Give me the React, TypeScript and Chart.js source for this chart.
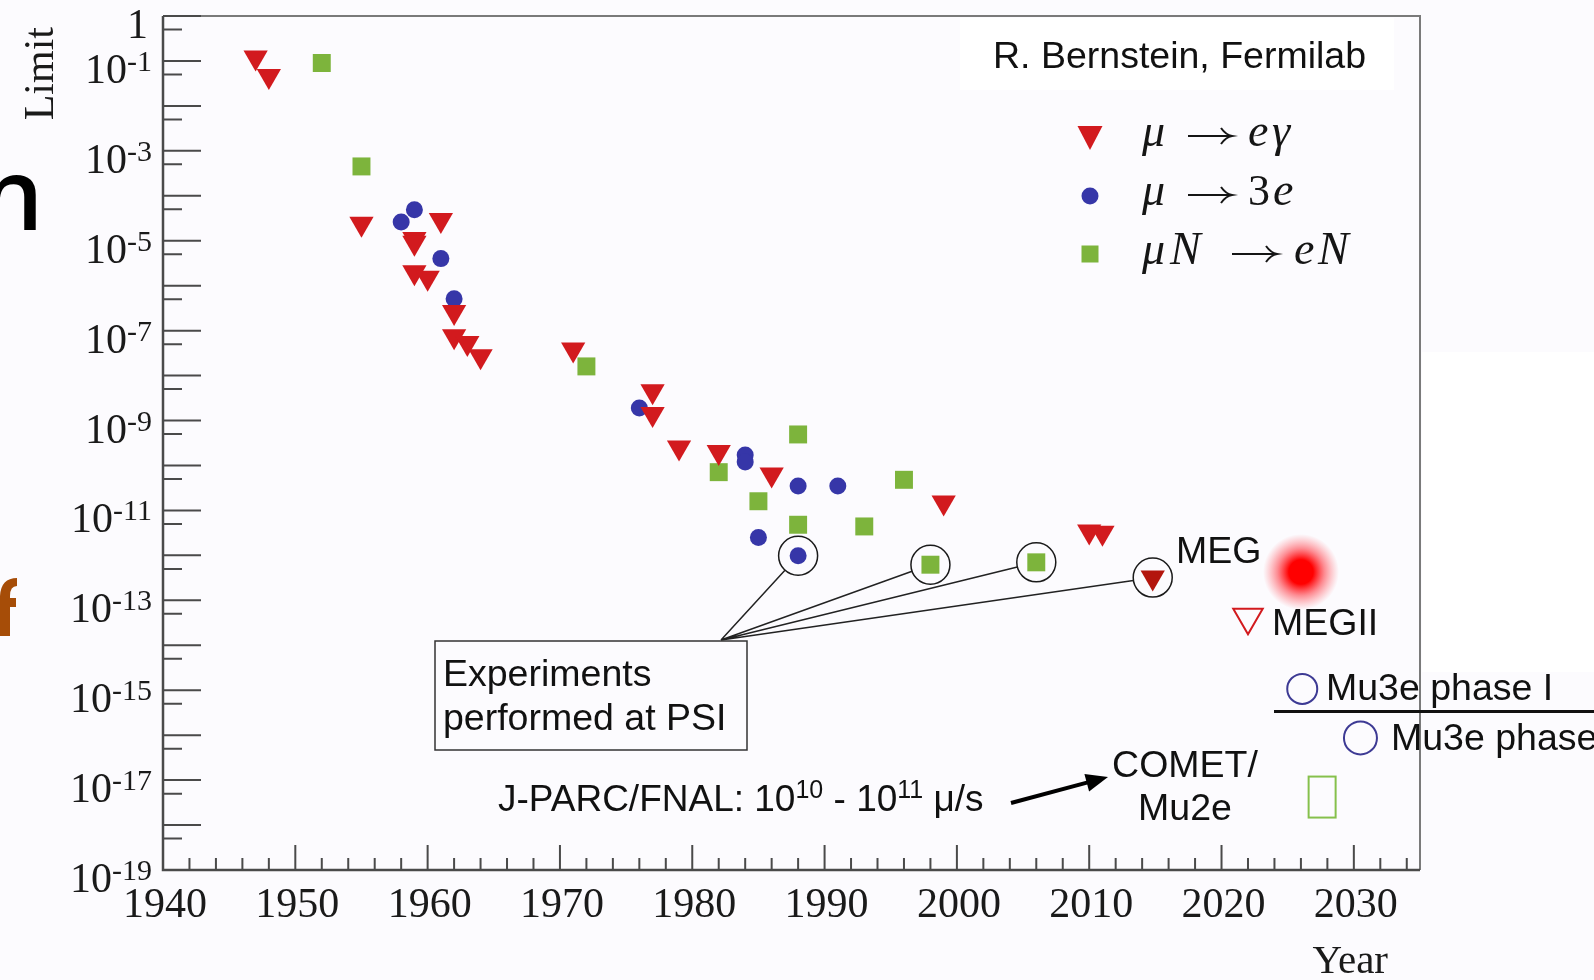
import React, { useEffect, useRef } from 'react';
import { Chart, registerables } from 'chart.js';

Chart.register(...registerables);

// ---------------- data ----------------
const muEgYear = [1947, 1948, 1955, 1959, 1959, 1959, 1960, 1961, 1962, 1962, 1963, 1964, 1971, 1977, 1977, 1979, 1982, 1986, 1999, 2010, 2011];
const muEgLimit = [1.2e-1, 4.6e-2, 2.4e-5, 1.1e-5, 9e-6, 2e-6, 1.5e-6, 2.9e-5, 2.6e-7, 7.5e-8, 5.3e-8, 2.7e-8, 3.8e-8, 4.5e-9, 1.4e-9, 2.5e-10, 2.0e-10, 6.3e-11, 1.5e-11, 3.4e-12, 3.2e-12];

const megYear = [2014.8];
const megLimit = [3.2e-13];

const mu3eYear = [1958, 1959, 1961, 1962, 1976, 1984, 1984, 1985, 1988, 1991, 1988];
const mu3eLimit = [2.6e-5, 4.9e-5, 4e-6, 5.1e-7, 1.9e-9, 1.7e-10, 1.2e-10, 2.5e-12, 3.5e-11, 3.5e-11, 9.8e-13];

const muNYear = [1952, 1955, 1972, 1982, 1985, 1988, 1988, 1993, 1996, 1998, 2006];
const muNLimit = [9e-2, 4.5e-4, 1.6e-8, 7.1e-11, 1.6e-11, 4.9e-10, 4.8e-12, 4.4e-12, 4.8e-11, 6.2e-13, 7e-13];

// experiments performed at PSI (circled)
const psiYear = [1988, 1998, 2006, 2014.8];
const psiLimit = [9.8e-13, 6.2e-13, 7e-13, 3.2e-13];

// future sensitivities
const megIIYear = [2022];
const megIILimit = [4.2e-14];
const mu3eFutureYear = [2026.1, 2030.5];
const mu3eFutureLimit = [1.07e-15, 8.7e-17];
const cometYear = [2027.6];
const cometLimit = [4.2e-18];

// axes
const xTickYears = [1940, 1950, 1960, 1970, 1980, 1990, 2000, 2010, 2020, 2030];
const yLabelExps = [0, -1, -3, -5, -7, -9, -11, -13, -15, -17, -19];

// ---------------- styles ----------------
const W = 1594;
const H = 980;
const SERIF = '"Liberation Serif", "Times New Roman", serif';
const SANS = '"Liberation Sans", Arial, Helvetica, sans-serif';
const RED = '#d21a1e';
const DARKRED = '#b3150d';
const BLUE = '#3636a8';
const GREEN = '#7db43c';
const PURPLE = '#3d3a94';
const LIGHTGREEN = '#86c04c';
const TXT = 37.5;

const toPts = (xs: number[], ys: number[]) => xs.map((x, i) => ({ x, y: ys[i] }));

function drawRich(ctx: CanvasRenderingContext2D, x: number, y: number, parts: [string, boolean][], size: number, supSize: number, rise: number) {
  let cx = x;
  for (const [t, sup] of parts) {
    ctx.font = `${sup ? supSize : size}px ${SANS}`;
    ctx.fillText(t, cx, sup ? y - rise : y);
    cx += ctx.measureText(t).width;
  }
  return cx;
}

function mathArrow(ctx: CanvasRenderingContext2D, x0: number, x1: number, y: number) {
  ctx.save();
  ctx.strokeStyle = '#151515';
  ctx.lineWidth = 2;
  ctx.beginPath();
  ctx.moveTo(x0, y);
  ctx.lineTo(x1 - 1, y);
  ctx.stroke();
  ctx.beginPath();
  ctx.moveTo(x1 - 11, y - 8);
  ctx.quadraticCurveTo(x1 - 6, y - 1, x1, y);
  ctx.quadraticCurveTo(x1 - 6, y + 1, x1 - 11, y + 8);
  ctx.stroke();
  ctx.restore();
}

const decoPlugin = {
  id: 'deco',
  beforeDraw(chart: any) {
    const ctx = chart.ctx as CanvasRenderingContext2D;
    ctx.save();
    ctx.fillStyle = '#fcfbfe';
    ctx.fillRect(0, 0, W, H);
    ctx.fillStyle = '#ffffff';
    ctx.fillRect(960, 18, 434, 72);
    ctx.fillRect(1422, 352, 172, 320);
    ctx.restore();
  },
  beforeDatasetsDraw(chart: any) {
    const ctx = chart.ctx as CanvasRenderingContext2D;
    const xs = chart.scales.x;
    const ys = chart.scales.y;
    const { left, right, top, bottom } = chart.chartArea;
    ctx.save();
    // frame
    ctx.strokeStyle = '#7a7a7a';
    ctx.lineWidth = 2;
    ctx.beginPath();
    ctx.moveTo(left, top);
    ctx.lineTo(right, top);
    ctx.lineTo(right, bottom);
    ctx.stroke();
    ctx.strokeStyle = '#4a4a4a';
    ctx.lineWidth = 2.5;
    ctx.beginPath();
    ctx.moveTo(left, top);
    ctx.lineTo(left, bottom);
    ctx.lineTo(right, bottom);
    ctx.stroke();
    // y ticks
    ctx.lineWidth = 2;
    ctx.beginPath();
    for (let e = 0; e >= -19; e--) {
      const py = ys.getPixelForValue(Math.pow(10, e));
      ctx.moveTo(left, py);
      ctx.lineTo(left + 38, py);
      if (e > -19) {
        const pm = ys.getPixelForValue(5 * Math.pow(10, e - 1));
        ctx.moveTo(left, pm);
        ctx.lineTo(left + 19, pm);
      }
    }
    // x ticks
    for (let yr = 1942; yr <= 2034; yr += 2) {
      const px = xs.getPixelForValue(yr);
      const len = yr % 10 === 0 ? 25 : 12;
      ctx.moveTo(px, bottom);
      ctx.lineTo(px, bottom - len);
    }
    ctx.stroke();

    // tick labels
    ctx.fillStyle = '#1a1a1a';
    ctx.font = `42px ${SERIF}`;
    ctx.textAlign = 'center';
    ctx.textBaseline = 'alphabetic';
    for (const yr of xTickYears) {
      ctx.fillText(String(yr), xs.getPixelForValue(yr) + 2, 917);
    }
    const rightEdge = 152;
    for (const e of yLabelExps) {
      const py = ys.getPixelForValue(Math.pow(10, e));
      if (e === 0) {
        ctx.textAlign = 'right';
        ctx.font = `42px ${SERIF}`;
        ctx.fillText('1', 148, py + 22);
        continue;
      }
      const sup = String(e);
      ctx.textAlign = 'left';
      ctx.font = `30px ${SERIF}`;
      const sw = ctx.measureText(sup).width;
      ctx.fillText(sup, rightEdge - sw, py + 10);
      ctx.font = `42px ${SERIF}`;
      ctx.textAlign = 'right';
      ctx.fillText('10', rightEdge - sw, py + 22);
    }

    // axis titles
    ctx.font = `42px ${SERIF}`;
    ctx.textAlign = 'right';
    ctx.save();
    ctx.translate(53, 27);
    ctx.rotate(-Math.PI / 2);
    ctx.fillText('Limit', 0, 0);
    ctx.restore();
    ctx.font = `41px ${SERIF}`;
    ctx.fillText('Year', 1388, 973);
    ctx.restore();
  },
  afterDraw(chart: any) {
    const ctx = chart.ctx as CanvasRenderingContext2D;
    const xs = chart.scales.x;
    const ys = chart.scales.y;
    ctx.save();
    ctx.fillStyle = '#111';
    ctx.textAlign = 'left';
    ctx.textBaseline = 'alphabetic';

    // credit
    ctx.font = `${TXT}px ${SANS}`;
    ctx.fillText('R. Bernstein, Fermilab', 993, 68);

    // legend markers
    const lx = 1090;
    ctx.fillStyle = RED;
    ctx.beginPath();
    ctx.moveTo(lx - 12.5, 126);
    ctx.lineTo(lx + 12.5, 126);
    ctx.lineTo(lx, 150);
    ctx.closePath();
    ctx.fill();
    ctx.fillStyle = BLUE;
    ctx.beginPath();
    ctx.arc(lx, 196, 8.5, 0, Math.PI * 2);
    ctx.fill();
    ctx.fillStyle = GREEN;
    ctx.fillRect(lx - 8.5, 245.5, 17, 17);

    // legend math text (glyphs placed individually)
    ctx.fillStyle = '#151515';
    const it = `italic 46px ${SERIF}`;
    const up = `44px ${SERIF}`;
    ctx.font = it;
    ctx.fillText('\u03bc', 1142, 146);
    mathArrow(ctx, 1188, 1232, 136);
    ctx.fillText('e', 1248, 146);
    ctx.fillText('\u03b3', 1272, 146);
    ctx.fillText('\u03bc', 1142, 205);
    mathArrow(ctx, 1188, 1232, 195);
    ctx.font = up;
    ctx.fillText('3', 1248, 205);
    ctx.font = it;
    ctx.fillText('e', 1273, 205);
    ctx.fillText('\u03bc', 1142, 264);
    ctx.fillText('N', 1170, 264);
    mathArrow(ctx, 1232, 1277, 254);
    ctx.fillText('e', 1294, 264);
    ctx.fillText('N', 1318, 264);

    // PSI box
    ctx.strokeStyle = '#333';
    ctx.lineWidth = 1.5;
    ctx.strokeRect(435, 641, 312, 109);
    ctx.fillStyle = '#111';
    ctx.font = `${TXT}px ${SANS}`;
    ctx.fillText('Experiments', 443, 686);
    ctx.fillText('performed at PSI', 443, 730);

    // lines from box to circled points
    const ox = 721, oy = 640, r = 19.5;
    ctx.strokeStyle = '#222';
    ctx.lineWidth = 1.5;
    ctx.beginPath();
    psiYear.forEach((yr, i) => {
      const cx = xs.getPixelForValue(yr);
      const cy = ys.getPixelForValue(psiLimit[i]);
      const dx = ox - cx, dy = oy - cy;
      const d = Math.hypot(dx, dy);
      ctx.moveTo(ox, oy);
      ctx.lineTo(cx + (dx / d) * r, cy + (dy / d) * r);
    });
    ctx.stroke();

    // J-PARC text
    ctx.fillStyle = '#111';
    drawRich(ctx, 498, 811, [
      ['J-PARC/FNAL: 10', false],
      ['10', true],
      [' - 10', false],
      ['11', true],
      [' \u03bc/s', false],
    ], 37, 25, 13);

    // arrow to COMET
    const ax0 = 1011, ay0 = 803, ax1 = 1108, ay1 = 777;
    const adx = ax1 - ax0, ady = ay1 - ay0;
    const al = Math.hypot(adx, ady);
    const ux = adx / al, uy = ady / al;
    ctx.strokeStyle = '#000';
    ctx.lineWidth = 4;
    ctx.beginPath();
    ctx.moveTo(ax0, ay0);
    ctx.lineTo(ax1 - ux * 18, ay1 - uy * 18);
    ctx.stroke();
    ctx.fillStyle = '#000';
    ctx.beginPath();
    ctx.moveTo(ax1, ay1);
    ctx.lineTo(ax1 - ux * 22 - uy * 9, ay1 - uy * 22 + ux * 9);
    ctx.lineTo(ax1 - ux * 22 + uy * 9, ay1 - uy * 22 - ux * 9);
    ctx.closePath();
    ctx.fill();

    // labels of experiments
    ctx.fillStyle = '#111';
    ctx.font = `${TXT}px ${SANS}`;
    ctx.textAlign = 'center';
    ctx.fillText('COMET/', 1185, 777);
    ctx.fillText('Mu2e', 1185, 820);
    ctx.textAlign = 'left';
    ctx.fillText('MEG', 1176, 563);
    ctx.fillText('MEGII', 1272, 635);
    ctx.fillText('Mu3e phase I', 1326, 700);
    ctx.fillText('Mu3e phase II', 1391, 750);

    // separator line
    ctx.strokeStyle = '#111';
    ctx.lineWidth = 3;
    ctx.beginPath();
    ctx.moveTo(1274, 711.5);
    ctx.lineTo(1594, 711.5);
    ctx.stroke();

    // laser pointer dot
    const g = ctx.createRadialGradient(1301, 572, 0, 1301, 572, 38);
    g.addColorStop(0, 'rgba(255,0,0,1)');
    g.addColorStop(0.32, 'rgba(255,0,0,1)');
    g.addColorStop(0.62, 'rgba(255,30,40,0.5)');
    g.addColorStop(1, 'rgba(255,80,90,0)');
    ctx.fillStyle = g;
    ctx.beginPath();
    ctx.arc(1301, 572, 38, 0, Math.PI * 2);
    ctx.fill();

    // slide text fragments at the left edge
    ctx.font = `600 100px "Open Sans", "Noto Sans", ${SANS}`;
    ctx.textAlign = 'left';
    ctx.fillStyle = '#000';
    const m = ctx.measureText('n');
    ctx.fillText('n', 36 - m.actualBoundingBoxRight, 230);
    // clipped "f"
    ctx.fillStyle = '#a64d08';
    ctx.fillRect(0, 596, 10, 40);
    ctx.fillRect(0, 598, 16, 9);
    ctx.beginPath();
    ctx.moveTo(0, 596);
    ctx.quadraticCurveTo(1, 578, 17, 578);
    ctx.lineTo(17, 586);
    ctx.quadraticCurveTo(10, 586, 10, 596);
    ctx.closePath();
    ctx.fill();

    ctx.restore();
  },
};

function makeRectStyle() {
  const c = document.createElement('canvas');
  c.width = 31;
  c.height = 45;
  const x = c.getContext('2d')!;
  x.strokeStyle = LIGHTGREEN;
  x.lineWidth = 2;
  x.strokeRect(2, 2, 27, 41);
  return c;
}

export default function App() {
  const ref = useRef<HTMLCanvasElement | null>(null);
  useEffect(() => {
    if (!ref.current) return;
    const rectStyle = makeRectStyle();
    const tri = { pointStyle: 'triangle', pointRotation: 180 };
    const chart = new Chart(ref.current, {
      type: 'scatter',
      data: {
        datasets: [
          { label: 'PSI', data: toPts(psiYear, psiLimit), pointStyle: 'circle', pointRadius: 19.5, backgroundColor: 'rgba(0,0,0,0)', borderColor: '#1a1a1a', borderWidth: 1.5, clip: false } as any,
          { label: 'MEG', data: toPts(megYear, megLimit), ...tri, pointRadius: 14, backgroundColor: DARKRED, borderWidth: 0, clip: false } as any,
          { label: 'mu -> e gamma', data: toPts(muEgYear, muEgLimit), ...tri, pointRadius: 14, backgroundColor: RED, borderWidth: 0, clip: false } as any,
          { label: 'mu -> 3e', data: toPts(mu3eYear, mu3eLimit), pointStyle: 'circle', pointRadius: 8.5, backgroundColor: BLUE, borderWidth: 0, clip: false } as any,
          { label: 'mu N -> e N', data: toPts(muNYear, muNLimit), pointStyle: 'rect', pointRadius: 12.7, backgroundColor: GREEN, borderWidth: 0, clip: false } as any,
          { label: 'MEGII', data: toPts(megIIYear, megIILimit), ...tri, pointRadius: 17, backgroundColor: 'rgba(0,0,0,0)', borderColor: RED, borderWidth: 2, clip: false } as any,
          { label: 'Mu3e', data: toPts(mu3eFutureYear, mu3eFutureLimit), pointStyle: 'circle', pointRadius: [15, 16.5], backgroundColor: 'rgba(0,0,0,0)', borderColor: PURPLE, borderWidth: 2, clip: false } as any,
          { label: 'COMET/Mu2e', data: toPts(cometYear, cometLimit), pointStyle: rectStyle, pointRadius: 20, clip: false } as any,
        ],
      },
      options: {
        responsive: false,
        animation: false,
        devicePixelRatio: 1,
        events: [],
        layout: { autoPadding: false, padding: { left: 163, top: 16, right: W - 1420, bottom: H - 870 } },
        scales: {
          x: { type: 'linear', min: 1940, max: 2035, display: false },
          y: { type: 'logarithmic', min: 1e-19, max: 1, display: false },
        },
        plugins: { legend: { display: false }, tooltip: { enabled: false } },
      },
      plugins: [decoPlugin],
    } as any);
    return () => chart.destroy();
  }, []);
  return (
    <div style={{ position: 'absolute', left: 0, top: 0, width: W, height: H, overflow: 'hidden', background: '#fcfbfe' }}>
      <canvas ref={ref} width={W} height={H} style={{ display: 'block', width: W, height: H }} />
    </div>
  );
}
